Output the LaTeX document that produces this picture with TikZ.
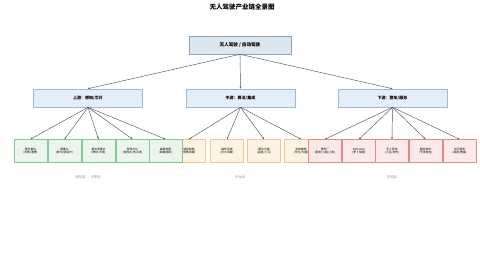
\documentclass[tikz,border=0pt]{standalone}
\usepackage{fontspec}
\setmainfont{Noto Sans CJK SC}
\usetikzlibrary{arrows.meta}
\definecolor{topfill}{HTML}{DCE6EF}
\definecolor{topdraw}{HTML}{8DA6BD}
\definecolor{midfill}{HTML}{E4EEF8}
\definecolor{middraw}{HTML}{9CBAD6}
\definecolor{gfill}{HTML}{E6F5EA}
\definecolor{gdraw}{HTML}{82C99A}
\definecolor{ofill}{HTML}{FDF1DE}
\definecolor{odraw}{HTML}{F2C98A}
\definecolor{rfill}{HTML}{FBE6E6}
\definecolor{rdraw}{HTML}{E08A8A}
\definecolor{linec}{HTML}{555555}
\tikzset{
  topbox/.style={draw=topdraw, fill=topfill, line width=0.6pt, minimum width=102pt, minimum height=18pt, inner sep=0pt, font=\fontsize{4.6}{5}\selectfont\bfseries},
  midbox/.style={draw=middraw, fill=midfill, line width=0.6pt, minimum width=109pt, minimum height=18pt, inner sep=0pt, font=\fontsize{4}{4.5}\selectfont\bfseries},
  leafbox/.style={line width=0.6pt, minimum width=33pt, minimum height=23pt, inner sep=0pt, align=center, font=\fontsize{2.8}{3.4}\selectfont, fill opacity=0.85, text opacity=1},
  gleaf/.style={leafbox, draw=gdraw, fill=gfill},
  oleaf/.style={leafbox, draw=odraw, fill=ofill},
  rleaf/.style={leafbox, draw=rdraw, fill=rfill},
  conn/.style={draw=linec, line width=0.45pt, -{Stealth[length=2.2pt,width=1.8pt]}},
  grouplabel/.style={font=\fontsize{3.4}{4}\selectfont, text=gray!80},
}
\begin{document}
\begin{tikzpicture}[x=1pt,y=-1pt]
\useasboundingbox (0,0) rectangle (480,273);
\node[font=\fontsize{6.5}{7}\selectfont\bfseries] (title) at (242,7) {无人驾驶产业链全景图};
\node[topbox] (root) at (240,45) {无人驾驶 / 自动驾驶};
\node[midbox] (up) at (88,98) {上游：感知/芯片};
\node[midbox] (mid) at (240.5,98) {中游：算法/集成};
\node[midbox] (down) at (392.5,98) {下游：整车/服务};
\draw[conn] (root.south) -- (up.north);
\draw[conn] (root.south) -- (mid.north);
\draw[conn] (root.south) -- (down.north);
% upstream leaves
\node[gleaf] (g1) at (30.5,151) {激光雷达\\(禾赛/速腾)};
\node[gleaf] (g2) at (64.5,151) {摄像头\\(舜宇/欧菲光)};
\node[gleaf] (g3) at (98.5,151) {毫米波雷达\\(博世/大陆)};
\node[gleaf] (g4) at (132.5,151) {智驾芯片\\(英伟达/地平线)};
% midstream leaves
\node[oleaf] (o1) at (189,151) {域控制器\\(德赛西威)};
\node[gleaf] (g5) at (165.5,151) {高精地图\\(四维图新)};
\node[oleaf] (o2) at (227,151) {操作系统\\(华为鸿蒙)};
\node[oleaf] (o3) at (264,151) {算法方案\\(百度/小马)};
\node[oleaf] (o4) at (301,151) {系统集成\\(华为/大疆)};
% downstream leaves
\node[rleaf] (r1) at (325,151) {整车厂\\(蔚来/小鹏/小米)};
\node[rleaf] (r2) at (359,151) {Robotaxi\\(萝卜快跑)};
\node[rleaf] (r3) at (392,151) {无人配送\\(小马/京东)};
\node[rleaf] (r4) at (425.5,151) {智能物流\\(干线物流)};
\node[rleaf] (r5) at (459.5,151) {出行服务\\(滴滴/曹操)};
\foreach \n in {g1,g2,g3,g4,g5} \draw[conn] (up.south) -- (\n.north);
\foreach \n in {o1,o2,o3,o4} \draw[conn] (mid.south) -- (\n.north);
\foreach \n in {r1,r2,r3,r4,r5} \draw[conn] (down.south) -- (\n.north);
\node[grouplabel] (lg) at (88,177) {感知层 · 决策层};
\node[grouplabel] (lo) at (240,177) {平台层};
\node[grouplabel] (lr) at (392,177) {应用层};
\end{tikzpicture}
\end{document}
